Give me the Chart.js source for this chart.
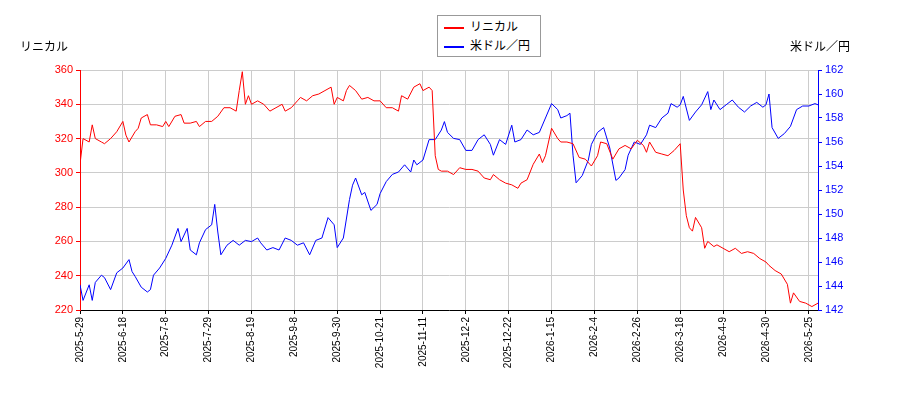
<!DOCTYPE html>
<html><head><meta charset="utf-8">
<script src="https://cdn.jsdelivr.net/npm/chart.js@4/dist/chart.umd.min.js"></script>
<style>
body{margin:0;background:#fff;font-family:"DejaVu Sans",sans-serif;}
#wrap{position:relative;width:900px;height:400px;}
.t{position:absolute;font-size:12px;color:#000;font-family:"Noto Sans CJK JP","DejaVu Sans";}
#leg{position:absolute;left:437px;top:15px;width:102px;height:40px;border:1px solid #999;background:#fff;font-size:12px;font-family:"Noto Sans CJK JP","DejaVu Sans";}
#leg div{height:19px;line-height:19px;padding-left:6px;}
#leg span{display:inline-block;width:20px;height:2px;vertical-align:middle;margin-right:6px;}
</style></head><body>
<div id="wrap"><canvas id="c" width="900" height="400"></canvas>
<div class="t" style="left:20px;top:37px">リニカル</div>
<div class="t" style="left:790px;top:37px">米ドル／円</div>
<div id="leg"><div><span style="background:red"></span>リニカル</div><div><span style="background:blue"></span>米ドル／円</div></div>
</div>
<script>
const tickLabels=["2025-5-29","2025-6-18","2025-7-8","2025-7-29","2025-8-19","2025-9-8","2025-9-30","2025-10-21","2025-11-11","2025-12-2","2025-12-22","2026-1-15","2026-2-4","2026-2-26","2026-3-18","2026-4-9","2026-4-30","2026-5-25"];
const redDay=[0,1,3,4,5,7,8,10,12,14,15,16,18,19,20,22,23,25,27,28,29,31,33,34,36,38,39,41,43,45,47,49,51,52,53,54,55,56,58,60,62,64,66,67,69,71,72,74,76,78,80,82,83,84,86,87,88,90,92,94,96,98,100,102,104,105,107,109,111,112,114,115,116,117,118,120,122,124,126,128,130,132,134,135,137,139,141,143,144,146,148,150,151,152,154,156,157,159,161,163,165,167,169,170,172,174,176,178,180,182,184,185,186,188,190,192,194,196,197,198,199,200,201,203,204,205,207,208,210,212,214,216,218,220,222,224,225,227,229,231,232,233,235,237,239,241,242];
const redVal=[305,320,318,328,320,318,317,320,324,330,322,318,324,326,332,334,328,328,327,330,327,333,334,329,329,330,327,330,330,333,338,338,336,348,359,340,345,340,342,340,336,338,340,336,338,342,344,342,345,346,348,350,340,344,342,348,351,348,343,344,342,342,338,338,336,345,343,350,352,348,350,348,310,302,301,301,299,303,302,302,301,297,296,299,296,294,293,291,294,296,305,311,306,310,326,320,318,318,317,309,308,304,310,318,317,308,314,316,314,319,316,312,318,312,311,310,313,317,290,275,268,266,274,268,256,260,257,258,256,254,256,253,254,253,250,248,246,243,241,235,224,230,225,224,222,224,224];
const blueDay=[0,1,3,4,5,7,8,10,12,14,16,17,18,20,22,23,24,26,28,30,32,33,35,36,38,39,41,43,44,45,46,48,50,52,54,56,58,59,61,63,65,67,69,71,73,75,77,79,81,83,84,86,88,89,90,92,93,95,97,98,100,102,104,106,108,109,110,112,114,116,118,119,120,122,124,126,128,130,132,134,135,137,139,141,142,144,146,148,150,152,154,156,157,159,160,161,162,164,166,167,169,171,173,175,176,178,179,181,183,185,186,188,190,192,193,195,196,197,199,201,203,205,206,207,209,211,213,215,217,219,221,223,224,225,226,228,230,232,234,236,238,240,242];
const blueVal=[144.1,142.8,144.1,142.8,144.3,144.9,144.7,143.7,145.1,145.5,146.2,145.2,144.8,143.9,143.5,143.7,144.9,145.5,146.3,147.4,148.8,147.7,148.8,147.0,146.6,147.6,148.7,149.1,150.8,148.5,146.6,147.4,147.8,147.4,147.8,147.7,148.0,147.6,147.0,147.2,147.0,148.0,147.8,147.4,147.6,146.6,147.8,148.0,149.7,149.1,147.2,148.0,151.2,152.4,153.0,151.6,151.8,150.3,150.8,151.7,152.7,153.3,153.5,154.1,153.5,154.5,154.1,154.5,156.2,156.2,157.0,157.7,156.8,156.3,156.2,155.3,155.3,156.2,156.6,155.8,154.9,156.2,155.8,157.4,156.0,156.2,157.0,156.6,156.8,158.0,159.2,158.7,158.0,158.2,158.4,154.9,152.6,153.2,154.5,155.8,156.8,157.2,155.5,152.8,153.0,153.7,154.9,156.0,155.8,156.6,157.4,157.2,158.0,158.4,159.2,158.9,159.1,159.8,157.8,158.5,159.1,160.2,158.7,159.5,158.7,159.1,159.5,158.9,158.5,159.0,159.3,158.9,159.1,160.0,157.2,156.3,156.7,157.3,158.7,159.0,159.0,159.2,159.0,159.5];
const zip=(a,b)=>a.slice(0,Math.min(a.length,b.length)).map((x,i)=>({x,y:b[i]}));
new Chart(document.getElementById('c'),{type:'line',
data:{datasets:[
{data:zip(redDay,redVal),borderColor:'red',borderWidth:1,pointRadius:0,yAxisID:'y',tension:0},
{data:zip(blueDay,blueVal),borderColor:'blue',borderWidth:1,pointRadius:0,yAxisID:'y1',tension:0}]},
options:{responsive:false,animation:false,layout:{padding:{top:70,left:0,right:0,bottom:0}},
plugins:{legend:{display:false},tooltip:{enabled:false}},
scales:{
x:{type:'linear',min:0,max:241,afterBuildTicks:a=>{a.ticks=tickLabels.map((_,i)=>({value:i*14}));},
 afterFit:a=>{a.height=90;},
 ticks:{autoSkip:false,maxRotation:90,minRotation:90,color:'#000',font:{size:10},callback:v=>tickLabels[v/14]},
 grid:{color:'#ccc',borderDash:[2,2],drawTicks:true,tickColor:'#000',tickLength:4},border:{color:'#000'}},
y:{position:'left',min:220,max:360,afterFit:a=>{a.width=80;},ticks:{stepSize:20,color:'red',font:{size:11}},
 grid:{color:'#ccc',borderDash:[2,2],tickColor:'red',tickLength:4},border:{color:'red'}},
y1:{position:'right',min:142,max:162,afterFit:a=>{a.width=82;},ticks:{stepSize:2,color:'blue',font:{size:11}},
 grid:{drawOnChartArea:false,tickColor:'blue',tickLength:4},border:{color:'blue'}}
}}});
</script></body></html>
